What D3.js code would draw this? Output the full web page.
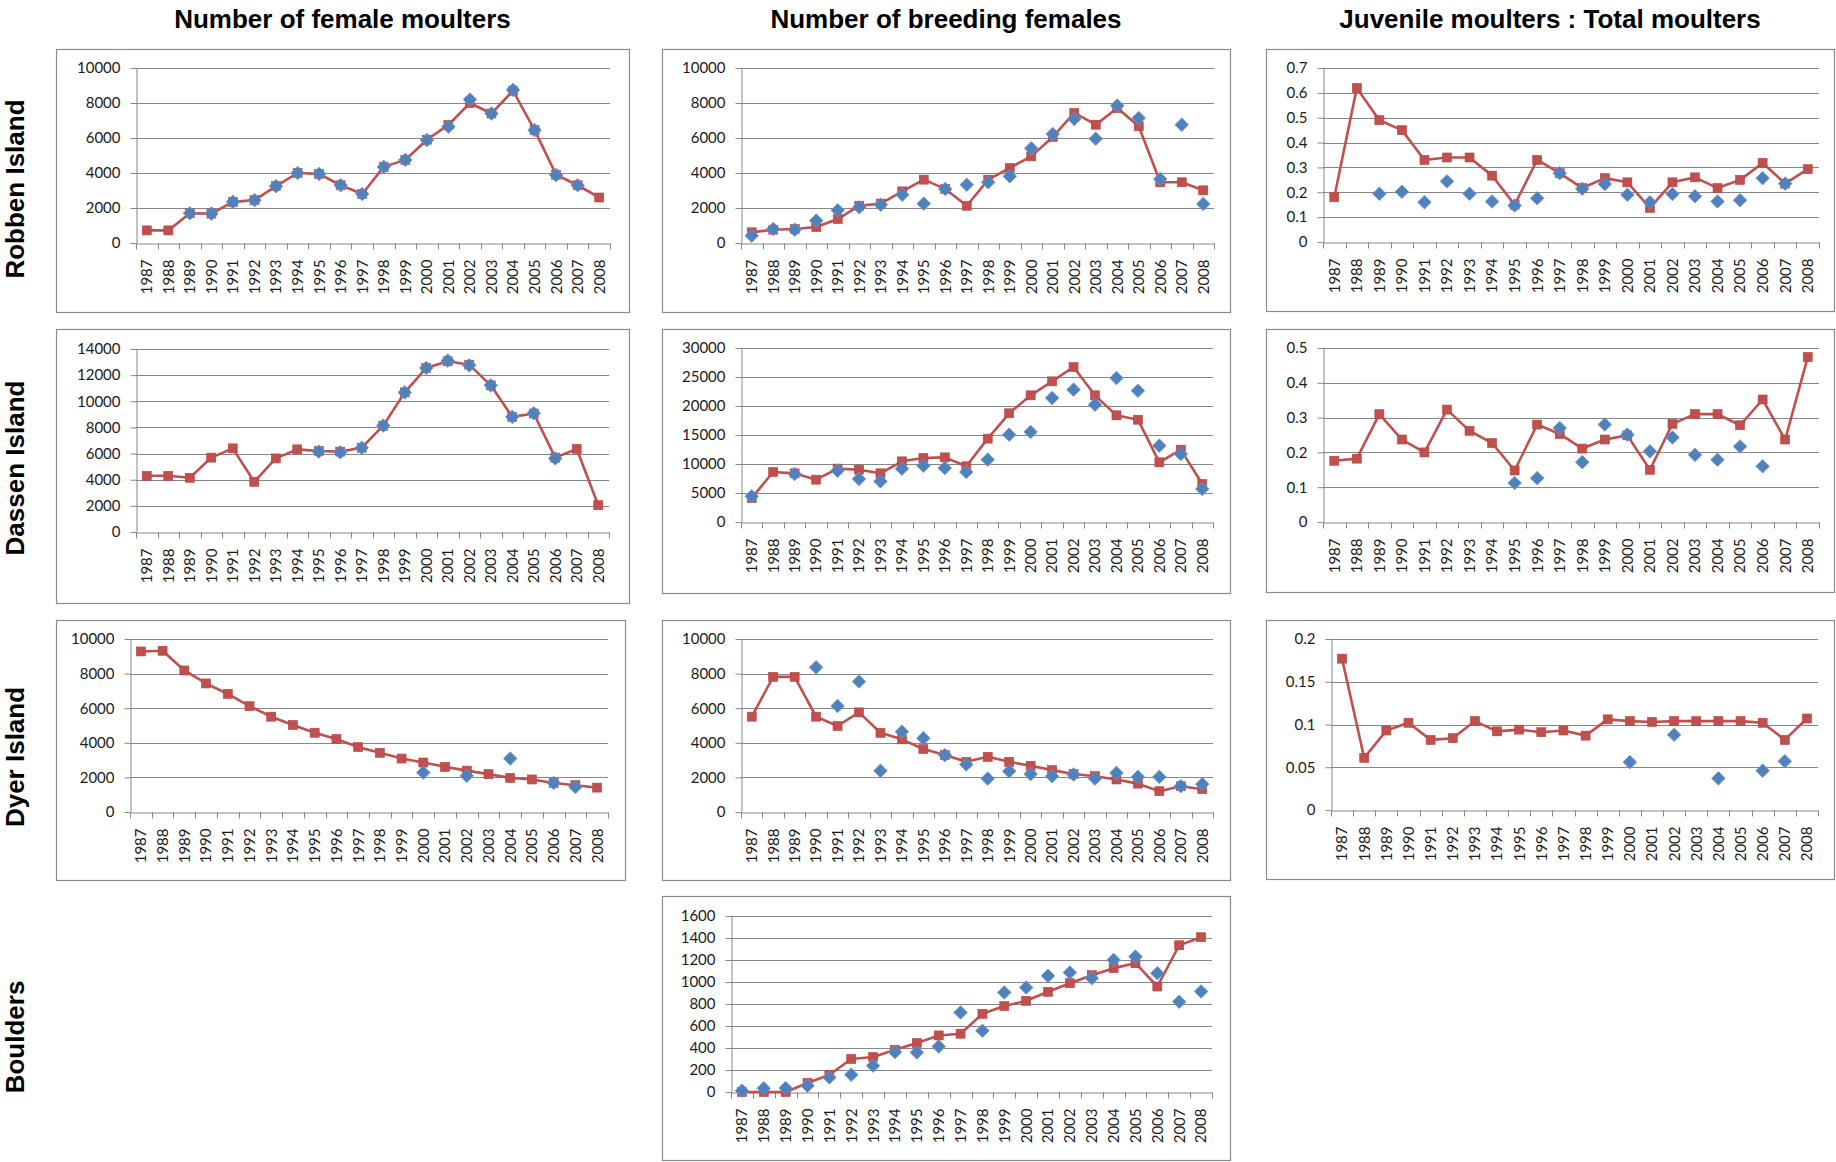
<!DOCTYPE html>
<html><head><meta charset="utf-8">
<script src="https://cdn.jsdelivr.net/npm/d3@7/dist/d3.min.js"></script>
<style>
html,body{margin:0;padding:0;background:#fff;}
svg{display:block;}
</style></head>
<body>
<svg id="c" width="1836" height="1162"></svg>
<script>
// ---------------- DATA ----------------
const years = ["1987","1988","1989","1990","1991","1992","1993","1994","1995","1996","1997","1998","1999","2000","2001","2002","2003","2004","2005","2006","2007","2008"];

const columnTitles = ["Number of female moulters", "Number of breeding females", "Juvenile moulters : Total moulters"];
const rowTitles = ["Robben Island", "Dassen Island", "Dyer Island", "Boulders"];

// tick labels
const ticks10000 = [0, 2000, 4000, 6000, 8000, 10000];
const ticks14000 = [0, 2000, 4000, 6000, 8000, 10000, 12000, 14000];
const ticks30000 = [0, 5000, 10000, 15000, 20000, 25000, 30000];
const ticks1600 = [0, 200, 400, 600, 800, 1000, 1200, 1400, 1600];
const ticks07 = [0, 0.1, 0.2, 0.3, 0.4, 0.5, 0.6, 0.7];
const ticks05 = [0, 0.1, 0.2, 0.3, 0.4, 0.5];
const ticks02 = [0, 0.05, 0.1, 0.15, 0.2];

// Robben Island
const robbenMoultersLine = [720, 720, 1700, 1680, 2350, 2450, 3250, 4000, 3950, 3300, 2800, 4350, 4750, 5900, 6750, 8000, 7400, 8700, 6450, 3900, 3300, 2600];
const robbenMoultersObs  = [null, null, 1700, 1680, 2350, 2450, 3250, 4000, 3950, 3300, 2800, 4350, 4750, 5880, 6650, 8200, 7400, 8750, 6450, 3880, 3300, null];
const robbenBreedersLine = [610, 760, 800, 910, 1370, 2130, 2250, 2950, 3620, 3090, 2130, 3620, 4290, 4950, 6060, 7430, 6760, 7710, 6670, 3470, 3470, 3010];
const robbenBreedersObs  = [420, 800, 760, 1280, 1870, 2040, 2190, 2760, 2250, 3090, 3330, 3470, 3810, 5410, 6230, 7090, 5960, 7850, 7140, 3660, 6760, 2230];
const robbenRatioLine = [0.18, 0.62, 0.49, 0.45, 0.33, 0.34, 0.34, 0.267, 0.15, 0.33, 0.277, 0.217, 0.257, 0.24, 0.137, 0.24, 0.26, 0.217, 0.25, 0.318, 0.235, 0.293];
const robbenRatioObs  = [null, null, 0.194, 0.202, 0.16, 0.244, 0.194, 0.163, 0.147, 0.176, 0.277, 0.214, 0.233, 0.19, 0.16, 0.193, 0.184, 0.163, 0.168, 0.257, 0.235, null];

// Dassen Island
const dassenMoultersLine = [4300, 4300, 4150, 5690, 6400, 3840, 5630, 6320, 6200, 6150, 6450, 8140, 10680, 12550, 13060, 12800, 11220, 8810, 9065, 5690, 6350, 2050];
const dassenMoultersObs  = [null, null, null, null, null, null, null, null, 6150, 6100, 6450, 8140, 10680, 12550, 13110, 12750, 11220, 8810, 9090, 5630, null, null];
const dassenBreedersLine = [4140, 8620, 8390, 7300, 9200, 9020, 8390, 10460, 11030, 11150, 9600, 14370, 18740, 21840, 24250, 26720, 21840, 18390, 17640, 10290, 12470, 6550];
const dassenBreedersObs  = [4430, null, 8280, null, 8850, 7410, 7010, 9200, 9710, 9310, 8620, 10750, 15060, 15520, 21380, 22820, 20230, 24830, 22640, 13160, 11720, 5690];
const dassenRatioLine = [0.176, 0.182, 0.31, 0.237, 0.2, 0.323, 0.262, 0.227, 0.148, 0.28, 0.253, 0.211, 0.237, 0.249, 0.15, 0.282, 0.31, 0.31, 0.278, 0.352, 0.237, 0.474];
const dassenRatioObs  = [null, null, null, null, null, null, null, null, 0.112, 0.126, 0.27, 0.172, 0.28, 0.251, 0.203, 0.243, 0.193, 0.179, 0.217, 0.16, null, null];

// Dyer Island
const dyerMoultersLine = [9280, 9320, 8180, 7430, 6830, 6120, 5510, 5030, 4580, 4220, 3750, 3420, 3090, 2860, 2610, 2390, 2190, 1970, 1880, 1680, 1550, 1410];
const dyerMoultersObs  = [null, null, null, null, null, null, null, null, null, null, null, null, null, 2280, null, 2090, null, 3090, null, 1680, 1450, null];
const dyerBreedersLine = [5510, 7810, 7810, 5510, 4970, 5760, 4580, 4200, 3640, 3290, 2900, 3190, 2900, 2670, 2420, 2200, 2070, 1880, 1640, 1200, 1490, 1320];
const dyerBreedersObs  = [null, null, null, 8360, 6130, 7540, 2380, 4640, 4260, 3290, 2750, 1930, 2360, 2190, 2070, 2170, 1930, 2260, 2030, 2030, 1490, 1610];
const dyerRatioLine = [0.177, 0.061, 0.093, 0.102, 0.082, 0.084, 0.104, 0.092, 0.094, 0.091, 0.093, 0.087, 0.106, 0.104, 0.103, 0.104, 0.104, 0.104, 0.104, 0.102, 0.082, 0.107];
const dyerRatioObs  = [null, null, null, null, null, null, null, null, null, null, null, null, null, 0.056, null, 0.088, null, 0.037, null, 0.046, 0.057, null];

// Boulders
const bouldersBreedersLine = [0, 0, 0, 82, 157, 300, 318, 384, 445, 514, 530, 711, 781, 829, 911, 989, 1062, 1126, 1171, 959, 1334, 1407];
const bouldersBreedersObs  = [12, 33, 36, 57, 133, 157, 239, 363, 360, 414, 723, 557, 905, 950, 1056, 1086, 1035, 1201, 1231, 1080, 820, 914];

// ---------------- LAYOUT ----------------
const panels = [
  {frame:[56,49,629,312],  plot:[136,68,610,243],   ticks:ticks10000, line:robbenMoultersLine, obs:robbenMoultersObs},
  {frame:[662,49,1230,312],plot:[741,68,1214,243],  ticks:ticks10000, line:robbenBreedersLine, obs:robbenBreedersObs},
  {frame:[1266,49,1834,311],plot:[1323,68,1819,242],ticks:ticks07,    line:robbenRatioLine,    obs:robbenRatioObs},
  {frame:[56,329,629,603], plot:[136,349,609,532],  ticks:ticks14000, line:dassenMoultersLine, obs:dassenMoultersObs},
  {frame:[662,329,1230,593],plot:[741,348,1213,522],ticks:ticks30000, line:dassenBreedersLine, obs:dassenBreedersObs},
  {frame:[1266,329,1834,592],plot:[1323,348,1819,522],ticks:ticks05,  line:dassenRatioLine,    obs:dassenRatioObs},
  {frame:[56,620,625,880], plot:[130,639,608,812],  ticks:ticks10000, line:dyerMoultersLine,   obs:dyerMoultersObs},
  {frame:[662,620,1230,880],plot:[741,639,1213,812],ticks:ticks10000, line:dyerBreedersLine,   obs:dyerBreedersObs},
  {frame:[1266,620,1834,879],plot:[1331,639,1818,810],ticks:ticks02,  line:dyerRatioLine,      obs:dyerRatioObs},
  {frame:[662,896,1230,1160],plot:[731,916,1212,1092],ticks:ticks1600,line:bouldersBreedersLine,obs:bouldersBreedersObs}
];
const colCenters = [342.5, 946, 1550];
const rowCenters = [189, 468, 757, 1037];

const RED = "#C0504D", BLUE = "#4F81BD", GRID = "#868686", FRAME = "#8a8a8a";
const TICKFONT = "Lato, 'Liberation Sans', sans-serif";

const svg = d3.select("#c");

// headers
svg.selectAll("text.colTitle").data(columnTitles).join("text")
  .attr("class","colTitle")
  .attr("x",(d,i)=>colCenters[i]).attr("y",28)
  .attr("text-anchor","middle")
  .style("font-family","'Liberation Sans', Arial, sans-serif")
  .style("font-weight","bold").style("font-size","26px").style("fill","#000")
  .text(d=>d);

svg.selectAll("text.rowTitle").data(rowTitles).join("text")
  .attr("class","rowTitle")
  .attr("transform",(d,i)=>`translate(24,${rowCenters[i]}) rotate(-90)`)
  .attr("text-anchor","middle")
  .style("font-family","'Liberation Sans', Arial, sans-serif")
  .style("font-weight","bold").style("font-size","26px").style("fill","#000")
  .text(d=>d);

function fmt(v){ return String(+v.toFixed(3)); }

panels.forEach(p=>{
  const g = svg.append("g");
  const [fx0,fy0,fx1,fy1] = p.frame;
  g.append("rect").attr("x",fx0+0.5).attr("y",fy0+0.5)
    .attr("width",fx1-fx0).attr("height",fy1-fy0)
    .attr("fill","#fff").attr("stroke",FRAME).attr("stroke-width",1.2);

  const [px0,py0,px1,py1] = p.plot;
  const x = d3.scaleBand().domain(years).range([px0,px1]).padding(0);
  const y = d3.scaleLinear().domain([0, p.ticks[p.ticks.length-1]]).range([py1,py0]);
  const bw = x.bandwidth();
  const cx = d => x(d) + bw/2;

  // gridlines
  g.append("g").selectAll("line").data(p.ticks.filter(t=>t>0)).join("line")
    .attr("x1",px0).attr("x2",px1)
    .attr("y1",t=>Math.round(y(t))+0.5).attr("y2",t=>Math.round(y(t))+0.5)
    .attr("stroke",GRID).attr("stroke-width",1);

  // y axis
  const ya = g.append("g").attr("transform",`translate(${Math.round(px0)+0.5},0)`)
    .call(d3.axisLeft(y).tickValues(p.ticks).tickFormat(fmt).tickSize(6).tickSizeOuter(0).tickPadding(10));
  ya.select(".domain").attr("stroke",GRID);
  ya.selectAll(".tick line").attr("stroke",GRID);
  ya.selectAll(".tick text").style("font-family",TICKFONT).style("font-size","15px").attr("fill","#1a1a1a");

  // x axis
  const xa = g.append("g").attr("transform",`translate(0,${Math.round(y(0))+0.5})`)
    .call(d3.axisBottom(x).tickSize(0).tickSizeOuter(0));
  xa.select(".domain").attr("stroke",GRID);
  xa.selectAll(".tick text")
    .attr("transform","rotate(-90)")
    .attr("text-anchor","end")
    .attr("x",-16).attr("y",0).attr("dy","0.36em")
    .style("font-family",TICKFONT).style("font-size","15px").attr("fill","#1a1a1a");
  // category boundary tick marks
  const bounds = years.map(d=>x(d)).concat([x.range()[1]]);
  xa.append("g").selectAll("line").data(bounds).join("line")
    .attr("x1",d=>Math.round(d)+0.5).attr("x2",d=>Math.round(d)+0.5)
    .attr("y1",0).attr("y2",6).attr("stroke",GRID);

  // red line with squares
  const lineData = years.map((yr,i)=>({yr, v:p.line[i]})).filter(d=>d.v!=null);
  g.append("path").datum(lineData)
    .attr("d", d3.line().x(d=>cx(d.yr)).y(d=>y(d.v)))
    .attr("fill","none").attr("stroke",RED).attr("stroke-width",2.6).attr("stroke-linejoin","round");
  g.append("g").selectAll("rect").data(lineData).join("rect")
    .attr("x",d=>cx(d.yr)-4.5).attr("y",d=>y(d.v)-4.5)
    .attr("width",9).attr("height",9)
    .attr("fill",RED).attr("stroke","#b8423f").attr("stroke-width",0.6);

  // blue diamonds
  const obsData = years.map((yr,i)=>({yr, v:p.obs[i]})).filter(d=>d.v!=null);
  g.append("g").selectAll("path").data(obsData).join("path")
    .attr("transform",d=>`translate(${cx(d.yr)},${y(d.v)})`)
    .attr("d","M0,-6.8L6.8,0L0,6.8L-6.8,0Z")
    .attr("fill",BLUE).attr("stroke","#6f98cc").attr("stroke-width",0.8);
});
</script>
</body></html>
